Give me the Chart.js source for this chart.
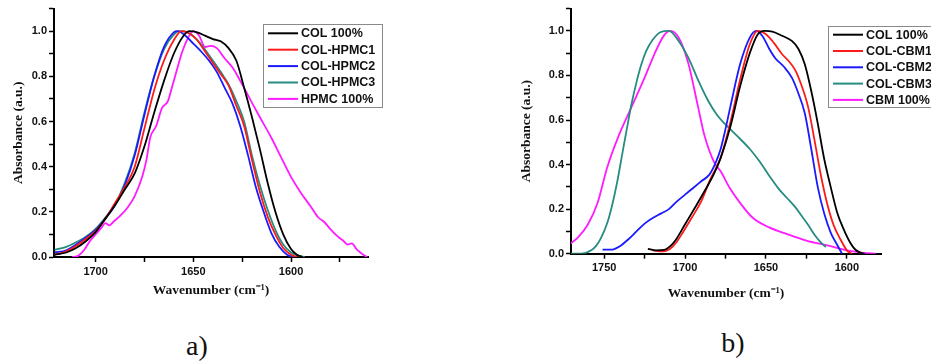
<!DOCTYPE html>
<html lang="en">
<head>
<meta charset="UTF-8" />
<title>FTIR amide I</title>
<script src="https://cdn.jsdelivr.net/npm/chart.js@4"></script>
<style>
  body { margin: 0; background: #fff; width: 931px; height: 363px; position: relative; overflow: hidden; }
  canvas { position: absolute; top: 0; }
  .tag { position: absolute; width: 60px; text-align: center; font-family: "Liberation Serif", serif; font-size: 28px; line-height: 28px; color: #111; }
</style>
</head>
<body>
<canvas id="chartA" width="400" height="300" style="left:0"></canvas>
<canvas id="chartB" width="421" height="305" style="left:510px"></canvas>
<div class="tag" style="left:167px; top:332px">a)</div>
<div class="tag" style="left:703px; top:329px">b)</div>

<script>
// ---- panel a : COL / HPMC ----
const labelsA = ['COL 100%', 'COL-HPMC1', 'COL-HPMC2', 'COL-HPMC3', 'HPMC 100%'];
const colA_wn = [1721, 1715, 1710, 1705, 1700, 1695, 1690, 1685, 1680, 1675, 1670, 1665, 1660, 1655, 1652, 1648, 1644, 1640, 1636, 1632, 1628, 1624, 1620, 1616, 1612, 1608, 1604, 1600, 1597, 1594];
const colA = [0.01, 0.02, 0.04, 0.07, 0.11, 0.17, 0.23, 0.3, 0.37, 0.49, 0.64, 0.78, 0.9, 0.98, 1.0, 0.995, 0.98, 0.965, 0.955, 0.925, 0.87, 0.75, 0.62, 0.48, 0.33, 0.2, 0.1, 0.035, 0.01, 0.0];
const hpmc1_wn = [1721, 1715, 1710, 1705, 1700, 1695, 1690, 1685, 1680, 1675, 1670, 1665, 1660, 1656, 1652, 1648, 1644, 1640, 1636, 1632, 1628, 1624, 1620, 1616, 1612, 1608, 1604, 1600, 1597];
const hpmc1 = [0.01, 0.025, 0.05, 0.08, 0.115, 0.17, 0.24, 0.31, 0.4, 0.57, 0.74, 0.87, 0.96, 1.0, 0.99, 0.96, 0.91, 0.86, 0.81, 0.76, 0.67, 0.58, 0.43, 0.29, 0.18, 0.1, 0.04, 0.01, 0.0];
const hpmc2_wn = [1721, 1715, 1710, 1705, 1700, 1695, 1690, 1685, 1680, 1675, 1670, 1665, 1660, 1658, 1654, 1650, 1646, 1642, 1638, 1634, 1630, 1626, 1622, 1618, 1614, 1610, 1606, 1602, 1599];
const hpmc2 = [0.02, 0.03, 0.055, 0.085, 0.12, 0.17, 0.23, 0.32, 0.45, 0.63, 0.8, 0.93, 0.995, 1.0, 0.98, 0.945, 0.91, 0.87, 0.82, 0.75, 0.68, 0.58, 0.45, 0.31, 0.2, 0.105, 0.045, 0.01, 0.0];
const hpmc3_wn = [1721, 1715, 1710, 1705, 1700, 1695, 1690, 1685, 1680, 1675, 1670, 1665, 1660, 1657, 1653, 1649, 1645, 1640, 1636, 1632, 1628, 1624, 1620, 1616, 1612, 1608, 1604, 1600, 1596, 1593];
const hpmc3 = [0.032, 0.045, 0.065, 0.09, 0.125, 0.175, 0.235, 0.33, 0.46, 0.64, 0.8, 0.92, 0.985, 1.0, 0.995, 0.97, 0.93, 0.87, 0.82, 0.765, 0.69, 0.6, 0.45, 0.32, 0.21, 0.12, 0.055, 0.02, 0.005, 0.0];
const hpmc_wn = [1712, 1709, 1706, 1703, 1700, 1697, 1695, 1693, 1691, 1688, 1684, 1680, 1676, 1674, 1672, 1669, 1666, 1663, 1661, 1659, 1656, 1653, 1650, 1647, 1644, 1641, 1638, 1634, 1630, 1626, 1622, 1616, 1610, 1605, 1600, 1595, 1590, 1586, 1583, 1580, 1576, 1573, 1571, 1569, 1566, 1563, 1561];
const hpmc = [0.0, 0.005, 0.03, 0.07, 0.1, 0.13, 0.15, 0.14, 0.155, 0.178, 0.215, 0.27, 0.36, 0.43, 0.53, 0.58, 0.66, 0.69, 0.75, 0.81, 0.9, 0.965, 1.0, 0.98, 0.93, 0.935, 0.925, 0.88, 0.84, 0.78, 0.716, 0.62, 0.527, 0.44, 0.355, 0.285, 0.225, 0.175, 0.155, 0.125, 0.09, 0.07, 0.055, 0.06, 0.03, 0.01, 0.0];

// ---- panel b : COL / CBM ----
const labelsB = ['COL 100%', 'COL-CBM1', 'COL-CBM2', 'COL-CBM3', 'CBM 100%'];
const colB_wn = [1723, 1718, 1713, 1709, 1706, 1700, 1694, 1688, 1682, 1678, 1672, 1666, 1660, 1655, 1651, 1646, 1640, 1634, 1630, 1626, 1622, 1618, 1614, 1610, 1606, 1602, 1598, 1595, 1592, 1589];
const colB = [0.022, 0.015, 0.017, 0.035, 0.059, 0.132, 0.205, 0.28, 0.36, 0.43, 0.57, 0.75, 0.9, 0.985, 1.0, 0.997, 0.978, 0.955, 0.92, 0.85, 0.73, 0.585, 0.425, 0.3, 0.185, 0.11, 0.05, 0.02, 0.006, 0.0];
const cbm1_wn = [1720, 1717, 1714, 1711, 1708, 1705, 1702, 1696, 1690, 1684, 1678, 1672, 1666, 1660, 1655, 1650, 1645, 1640, 1636, 1632, 1628, 1624, 1620, 1616, 1612, 1608, 1604, 1600, 1597];
const cbm1 = [0.015, 0.012, 0.011, 0.015, 0.03, 0.055, 0.088, 0.16, 0.235, 0.34, 0.43, 0.59, 0.78, 0.94, 1.0, 0.985, 0.945, 0.895, 0.865, 0.825, 0.755, 0.66, 0.51, 0.35, 0.22, 0.125, 0.065, 0.015, 0.0];
const cbm2_wn = [1751, 1746, 1740, 1735, 1730, 1725, 1720, 1715, 1710, 1705, 1700, 1695, 1690, 1685, 1681, 1678, 1675, 1672, 1666, 1660, 1656, 1652, 1648, 1644, 1639, 1634, 1630, 1626, 1622, 1618, 1614, 1610, 1606, 1603];
const cbm2 = [0.018, 0.018, 0.035, 0.065, 0.1, 0.135, 0.16, 0.18, 0.2, 0.235, 0.265, 0.295, 0.325, 0.355, 0.41, 0.47, 0.56, 0.66, 0.85, 0.97, 1.0, 0.975, 0.92, 0.875, 0.84, 0.79, 0.72, 0.63, 0.47, 0.3, 0.18, 0.095, 0.04, 0.0];
const cbm3_wn = [1771, 1764, 1758, 1755, 1752, 1748, 1745, 1742, 1739, 1736, 1733, 1730, 1727, 1724, 1720, 1715, 1710, 1704, 1698, 1692, 1686, 1680, 1675, 1668, 1660, 1654, 1648, 1642, 1637, 1632, 1628, 1624, 1620, 1616, 1613];
const cbm3 = [0.0, 0.0, 0.015, 0.035, 0.07, 0.14, 0.22, 0.32, 0.44, 0.56, 0.675, 0.77, 0.85, 0.91, 0.96, 0.995, 1.0, 0.955, 0.88, 0.78, 0.69, 0.62, 0.58, 0.53, 0.47, 0.415, 0.35, 0.29, 0.25, 0.21, 0.17, 0.13, 0.085, 0.05, 0.03];
const cbm_wn = [1771, 1766, 1760, 1754, 1748, 1741, 1733, 1725, 1719, 1713, 1709, 1704, 1698, 1692, 1688, 1682, 1678, 1672, 1666, 1658, 1648, 1637, 1625, 1612, 1600, 1590, 1582];
const cbm = [0.044, 0.074, 0.132, 0.23, 0.39, 0.53, 0.66, 0.79, 0.895, 0.98, 1.0, 0.97, 0.855, 0.66, 0.53, 0.41, 0.37, 0.29, 0.228, 0.16, 0.118, 0.088, 0.059, 0.037, 0.015, 0.004, 0.0];

const colors = ['#000000', '#ff1a1a', '#1a1aff', '#268c80', '#ff1aff'];

const pts = (xs, ys) => xs.map((x, i) => ({ x: x, y: ys[i] }));

// framed legend inside the plot, like the Origin graphs
const boxLegend = {
  id: 'boxLegend',
  afterDraw(chart, args, o) {
    const ctx = chart.ctx;
    ctx.save();
    ctx.fillStyle = '#fff';
    ctx.fillRect(o.x, o.y, o.w, o.h);
    ctx.strokeStyle = '#8a8a8a';
    ctx.lineWidth = 1;
    ctx.strokeRect(o.x + 0.5, o.y + 0.5, o.w, o.h);
    ctx.font = 'bold 12.5px "Liberation Sans", Arial, sans-serif';
    ctx.textBaseline = 'middle';
    chart.data.datasets.forEach((ds, i) => {
      const y = o.y + o.first + i * o.row;
      ctx.strokeStyle = ds.borderColor;
      ctx.lineWidth = 2;
      ctx.beginPath();
      ctx.moveTo(o.x + o.pad, y);
      ctx.lineTo(o.x + o.pad + o.len, y);
      ctx.stroke();
      ctx.fillStyle = '#111';
      ctx.fillText(ds.label, o.x + o.pad + o.len + 3, y + 0.5);
    });
    ctx.restore();
  }
};

function makeChart(id, labels, series, cfg) {
  const tickFont = { family: '"Liberation Sans", Arial, sans-serif', size: 11, weight: 'bold' };
  const titleFont = { family: '"Liberation Serif", "Times New Roman", serif', size: 13.5, weight: 'bold' };
  return new Chart(document.getElementById(id), {
    type: 'line',
    data: {
      datasets: series.map((s, i) => ({
        label: labels[i],
        data: pts(s[0], s[1]),
        borderColor: colors[i],
        borderWidth: 1.8,
        pointRadius: 0,
        fill: false,
        cubicInterpolationMode: 'monotone'
      }))
    },
    options: {
      responsive: false,
      animation: false,
      layout: { padding: cfg.padding },
      plugins: { legend: { display: false }, tooltip: { enabled: false }, boxLegend: cfg.legend },
      scales: {
        x: {
          type: 'linear',
          reverse: true,
          min: cfg.xmin,
          max: cfg.xmax,
          afterFit: s => { s.height = cfg.xh; },
          border: { color: '#000', width: 2 },
          grid: { drawOnChartArea: false, tickLength: 5, tickColor: '#000', tickWidth: 1.5 },
          ticks: {
            stepSize: 25, includeBounds: false, autoSkip: false, maxRotation: 0,
            padding: 3, color: '#111', font: tickFont,
            callback: v => (v % 50 === 0 ? v : '')
          },
          title: {
            display: true, text: 'Wavenumber (cm\u207B\u00B9)', color: '#111', font: titleFont,
            padding: { top: 0, bottom: cfg.xtPad }
          }
        },
        y: {
          min: 0,
          max: 1.1,
          afterFit: s => { s.width = cfg.yw; },
          border: { color: '#000', width: 2 },
          grid: { drawOnChartArea: false, tickLength: 5, tickColor: '#000', tickWidth: 1.5 },
          ticks: {
            stepSize: 0.1, includeBounds: false, padding: 2, color: '#111', font: tickFont,
            callback: v => (Math.round(v * 10) % 2 === 0 ? v.toFixed(1) : '')
          },
          title: {
            display: true, text: 'Absorbance (a.u.)', color: '#111', font: titleFont,
            padding: { top: cfg.ytPad, bottom: 0 }
          }
        }
      }
    },
    plugins: [boxLegend]
  });
}

makeChart('chartA', labelsA,
  [[colA_wn, colA], [hpmc1_wn, hpmc1], [hpmc2_wn, hpmc2], [hpmc3_wn, hpmc3], [hpmc_wn, hpmc]],
  {
    xmin: 1560.6, xmax: 1721.3, xh: 43, yw: 54, xtPad: 1, ytPad: 10.9,
    padding: { top: 5, right: 32, bottom: 0, left: 0 },
    legend: { x: 263, y: 24, w: 119, h: 83, first: 9.3, row: 16.4, pad: 5, len: 30 }
  });

makeChart('chartB', labelsB,
  [[colB_wn, colB], [cbm1_wn, cbm1], [cbm2_wn, cbm2], [cbm3_wn, cbm3], [cbm_wn, cbm]],
  {
    xmin: 1578.9, xmax: 1770.5, xh: 51.3, yw: 61, xtPad: 3, ytPad: 8.4,
    padding: { top: 3.5, right: 50, bottom: 0, left: 0 },
    legend: { x: 318, y: 26, w: 125, h: 81, first: 8.7, row: 16.3, pad: 5, len: 30 }
  });
</script>
</body>
</html>
